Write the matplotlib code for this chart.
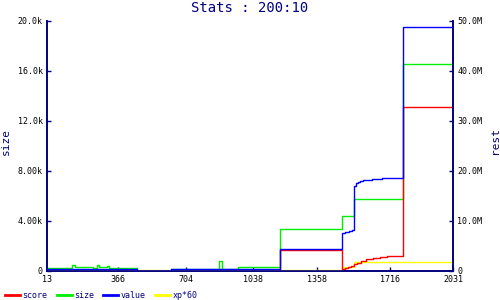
import matplotlib
matplotlib.use("Agg")
import matplotlib.pyplot as plt

# Data (step series, values hold until next x)
title = "Stats : 200:10"
x_ticks = [13, 366, 704, 1038, 1358, 1716, 2031]
size_ticks = [0, 4000, 8000, 12000, 16000, 20000]
size_labels = ["0", "4.00k", "8.00k", "12.0k", "16.0k", "20.0k"]
rest_ticks = [0, 10e6, 20e6, 30e6, 40e6, 50e6]
rest_labels = ["0", "10.0M", "20.0M", "30.0M", "40.0M", "50.0M"]

size_x = [13, 139, 154, 243, 263, 273, 312, 322, 462, 630, 869, 884, 963, 1172, 1481, 1541, 1785, 2031]
size_k = [0.22, 0.46, 0.32, 0.22, 0.46, 0.30, 0.40, 0.25, 0.0, 0.17, 0.80, 0.17, 0.32, 3.34, 4.38, 5.74, 16.56, 16.56]

score_x = [13, 1172, 1480, 1495, 1510, 1525, 1539, 1554, 1574, 1599, 1634, 1668, 1703, 1785, 2031]
score_M = [0, 4.13, 0.3, 0.5, 0.7, 1.0, 1.3, 1.6, 1.9, 2.3, 2.5, 2.7, 2.9, 32.7, 32.7]

value_x = [13, 462, 630, 1172, 1481, 1495, 1514, 1529, 1541, 1548, 1557, 1569, 1586, 1602, 1627, 1652, 1677, 1785, 2031]
value_M = [0.34, 0.0, 0.3, 4.4, 7.54, 7.74, 7.94, 8.2, 16.94, 17.54, 17.74, 17.94, 18.14, 18.26, 18.4, 18.46, 18.54, 48.7, 48.7]

xp_x = [13, 1481, 1541, 2031]
xp_M = [0.14, 0.74, 1.87, 1.87]

navy = "#000080"
mono = "DejaVu Sans Mono"

fig = plt.figure(figsize=(5, 3), dpi=100)
ax = fig.add_axes([0.0934, 0.0967, 0.8126, 0.8333])
ax2 = ax.twinx()

lw = 1.0
ax.step(size_x, [v * 1000 for v in size_k], where="post", color="#00ee00", lw=lw, zorder=2)
ax2.step(xp_x, [v * 1e6 for v in xp_M], where="post", color="#ffff00", lw=lw, zorder=1)
ax2.step(score_x, [v * 1e6 for v in score_M], where="post", color="#ff0000", lw=lw, zorder=2)
ax2.step(value_x, [v * 1e6 for v in value_M], where="post", color="#0000ff", lw=lw, zorder=3)

ax.set_xlim(13, 2031)
ax.set_ylim(0, 20000)
ax2.set_ylim(0, 50e6)

ax.set_xticks(x_ticks)
ax.set_xticklabels([str(t) for t in x_ticks])
ax.set_yticks(size_ticks)
ax.set_yticklabels(size_labels)
ax2.set_yticks(rest_ticks)
ax2.set_yticklabels(rest_labels)

for a in (ax, ax2):
    a.spines["top"].set_visible(False)
    for s in ("left", "right", "bottom"):
        a.spines[s].set_color(navy)
        a.spines[s].set_linewidth(1.2)
    a.tick_params(direction="in", length=3, width=1, color=navy,
                  labelsize=6, labelcolor="black", pad=3)
    for lab in a.get_xticklabels() + a.get_yticklabels():
        lab.set_fontfamily(mono)

ax.set_ylabel("size", color=navy, fontsize=8, family=mono)
ax.yaxis.set_label_coords(-0.088, 0.516)
ax2.set_ylabel("rest", color=navy, fontsize=8, family=mono)
ax2.yaxis.set_label_coords(1.091, 0.52)
fig.suptitle(title, color=navy, fontsize=10, family=mono, y=0.995)

handles = [
    plt.Line2D([], [], color="#ff0000", lw=2),
    plt.Line2D([], [], color="#00ee00", lw=2),
    plt.Line2D([], [], color="#0000ff", lw=2),
    plt.Line2D([], [], color="#ffff00", lw=2),
]
leg = fig.legend(handles, ["score", "size", "value", "xp*60"], loc="lower left",
                 bbox_to_anchor=(-0.005, -0.025), ncol=4, frameon=False,
                 handlelength=1.8, handletextpad=0.3, columnspacing=1.1,
                 prop={"family": mono, "size": 6})
for t in leg.get_texts():
    t.set_color(navy)

fig.savefig("out.png", dpi=100)
